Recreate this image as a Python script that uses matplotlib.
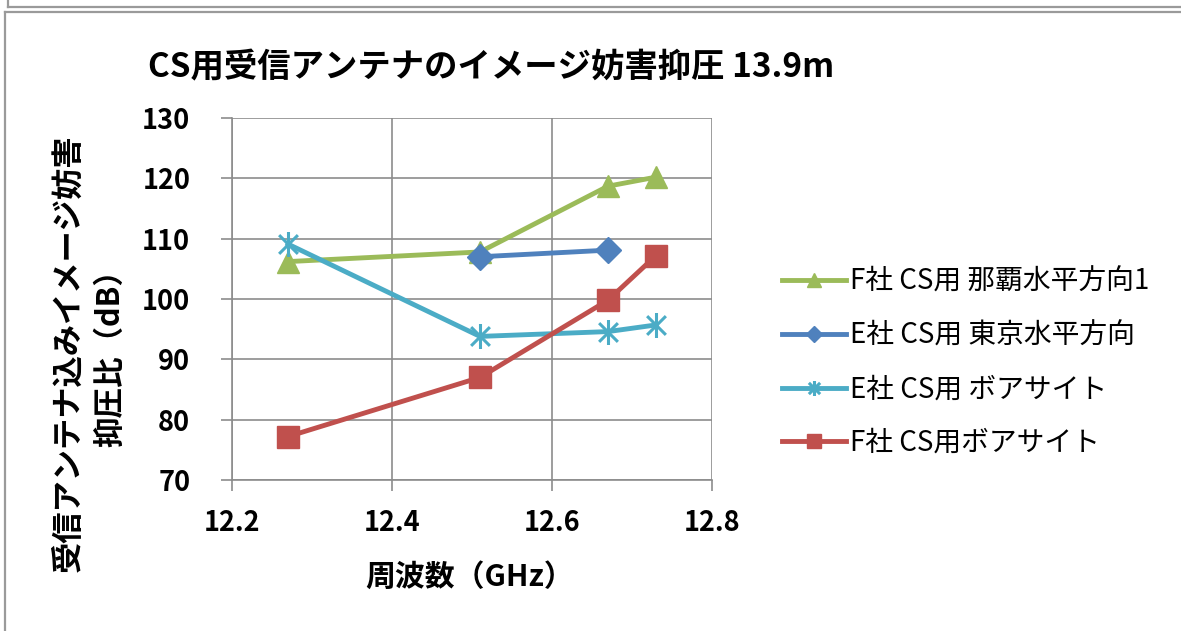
import matplotlib
matplotlib.use("Agg")
import matplotlib.pyplot as plt
from matplotlib.lines import Line2D
from matplotlib.path import Path

plt.rcParams['font.family'] = ['Noto Sans CJK JP', 'DejaVu Sans']

# data
freq = [12.27, 12.51, 12.67, 12.73]
f_naha = [106.2, 107.8, 118.7, 120.2]
e_tokyo_freq = [12.51, 12.67]
e_tokyo = [107.0, 108.1]
e_bore = [109.1, 93.8, 94.6, 95.7]
f_bore = [77.2, 87.0, 99.8, 107.2]

labels = ['F社 CS用 那覇水平方向1', 'E社 CS用 東京水平方向',
          'E社 CS用 ボアサイト', 'F社 CS用ボアサイト']
colors = ['#9BBB59', '#4F81BD', '#4BACC6', '#C0504D']

x_ticks = [12.2, 12.4, 12.6, 12.8]
y_ticks = [70, 80, 90, 100, 110, 120, 130]

# asterisk marker like the Excel one
star = Path([(0, -1), (0, 1), (-0.75, -0.75), (0.75, 0.75), (-0.75, 0.75), (0.75, -0.75)],
            [Path.MOVETO, Path.LINETO, Path.MOVETO, Path.LINETO, Path.MOVETO, Path.LINETO])

W, H = 1181, 631
fig = plt.figure(figsize=(W / 100, H / 100), dpi=100)
ax = fig.add_axes([232 / W, 1 - 480 / H, 480 / W, 362 / H])

lw = 3.5
ax.plot(freq, f_naha, color=colors[0], lw=lw, marker='^', ms=16, label=labels[0], zorder=3)
ax.plot(e_tokyo_freq, e_tokyo, color=colors[1], lw=lw, marker='D', ms=13, label=labels[1], zorder=4)
ax.plot(freq, e_bore, color=colors[2], lw=lw, marker=star, ms=18, mew=2.2, label=labels[2], zorder=3)
ax.plot(freq, f_bore, color=colors[3], lw=lw, marker='s', ms=16, label=labels[3], zorder=3)

ax.set_xlim(12.2, 12.8)
ax.set_ylim(70, 130)
ax.set_xticks(x_ticks)
ax.set_yticks(y_ticks)
ax.set_xticklabels([f"{v:.1f}" for v in x_ticks])
ax.grid(True, color='#8c8c8c', lw=1.2)
ax.set_axisbelow(True)
for s in ['top', 'right']:
    ax.spines[s].set_visible(False)
for s in ['left', 'bottom']:
    ax.spines[s].set_color('#8c8c8c')
    ax.spines[s].set_linewidth(1.2)
ax.tick_params(axis='both', direction='out', length=8, width=1.2, color='#8c8c8c',
               labelsize=19.5)
ax.tick_params(axis='y', pad=22)
ax.tick_params(axis='x', pad=13)
for t in ax.get_xticklabels() + ax.get_yticklabels():
    t.set_fontweight('bold')

fig.text(491 / W, 1 - 68 / H, 'CS用受信アンテナのイメージ妨害抑圧 13.9m',
         ha='center', va='center', fontsize=24, fontweight='bold')
fig.text(470 / W, 1 - 577 / H, '周波数（GHz）', ha='center', va='center',
         fontsize=21.5, fontweight='bold')
fig.text(68 / W, 1 - 353 / H, '受信アンテナ込みイメージ妨害', ha='center', va='center',
         rotation=90, fontsize=22.5, fontweight='bold')
fig.text(110 / W, 1 - 351 / H, '抑圧比（dB）', ha='center', va='center',
         rotation=90, fontsize=22, fontweight='bold')

leg = fig.legend(loc='upper left', bbox_to_anchor=(757 / W, 1 - 242 / H), frameon=False,
                 fontsize=20, handlelength=2.3, markerscale=0.6, labelspacing=0.85,
                 handletextpad=0.15)

# window / chart frame lines
frame = '#9a9a9a'
fig.add_artist(Line2D([8 / W, 1], [1 - 7 / H, 1 - 7 / H], color=frame, lw=1.6))
fig.add_artist(Line2D([8 / W, 8 / W], [1, 1 - 7 / H], color=frame, lw=1.6))
fig.add_artist(Line2D([5 / W, 1], [1 - 12 / H, 1 - 12 / H], color=frame, lw=1.6))
fig.add_artist(Line2D([5 / W, 5 / W], [1 - 12 / H, 0], color=frame, lw=1.6))

fig.savefig('out.png', dpi=100)
